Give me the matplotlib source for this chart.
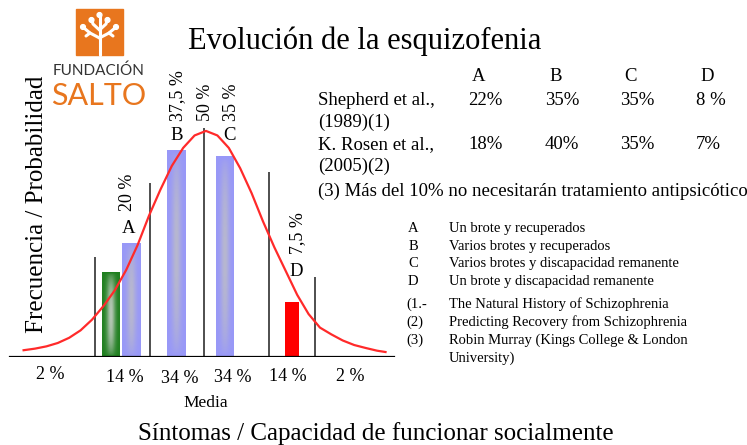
"""
Evolución de la esquizofenia - bell curve with outcome bars
"""
import numpy as np
import matplotlib
matplotlib.use("Agg")
import matplotlib.pyplot as plt
from matplotlib.colors import to_rgb

# curve heights (x in sigma units, 1.0 = peak)
curve_x = [-3.2, -3.0, -2.8, -2.6, -2.4, -2.2, -2.0, -1.8, -1.6, -1.4, -1.2, -1.0,
           -0.8, -0.6, -0.4, -0.2, 0.0, 0.2, 0.4, 0.6, 0.8, 1.0, 1.2, 1.4, 1.6,
           1.8, 2.0, 2.2, 2.4, 2.6, 2.8, 3.0, 3.15]
curve_y = [0.03, 0.037, 0.047, 0.062, 0.085, 0.118, 0.165, 0.225, 0.295, 0.385, 0.495, 0.625,
           0.74, 0.845, 0.925, 0.98, 1.0, 0.98, 0.925, 0.835, 0.725, 0.60, 0.485, 0.38,
           0.275, 0.19, 0.13, 0.10, 0.073, 0.053, 0.04, 0.028, 0.022]

# bars (green, A, B, C, D)
bar_x = [-1.675, -1.316, -0.518, 0.325, 1.51]
bar_height = [0.372, 0.504, 0.912, 0.885, 0.243]
bar_width = [0.30, 0.316, 0.333, 0.30, 0.246]
bar_letters = ["", "A", "B", "C", "D"]
bar_pct = ["", "20 %", "37,5 %", "35 %", "7,5 %"]
mean_pct = "50 %"

# sigma divider lines
sigma_x = [-1.95, -0.98, -0.035, 1.105, 1.91]
sigma_top = [0.442, 0.77, 1.013, 0.819, 0.354]
sigma_bottom = [-0.058, -0.049, -0.027, 0.0, -0.066]

region_labels = ["2 %", "14 %", "34 %", "34 %", "14 %", "2 %"]

table_cols = ["A", "B", "C", "D"]
shepherd = ["22%", "35%", "35%", "8 %"]
rosen = ["18%", "40%", "35%", "7%"]

legend_keys = ["A", "B", "C", "D"]
legend_texts = ["Un brote y recuperados", "Varios brotes y recuperados",
                "Varios brotes y discapacidad remanente",
                "Un brote y discapacidad remanente"]
ref_keys = ["(1.-", "(2)", "(3)", ""]
ref_texts = ["The Natural History of Schizophrenia",
             "Predicting Recovery from Schizophrenia",
             "Robin Murray (Kings College & London", "University)"]

SERIF = "Liberation Serif"
ORANGE = "#E8761E"
W, H = 747, 445


def gradient_bar(ax, x, w, h, edge, center):
    ny, nx = 60, 24
    u = np.linspace(-1, 1, nx)[None, :]
    v = np.linspace(-1, 1, ny)[:, None]
    wt = np.exp(-(u / 0.5) ** 2) * (1 - v ** 2) ** 0.6 * 0.85
    e = np.array(to_rgb(edge))
    c = np.array(to_rgb(center))
    img = e[None, None, :] * (1 - wt[..., None]) + c[None, None, :] * wt[..., None]
    ax.imshow(img, extent=(x - w / 2, x + w / 2, 0, h), aspect="auto",
              interpolation="bilinear", zorder=2)


fig = plt.figure(figsize=(W / 100, H / 100), dpi=100)

# chart axes: baseline at pixel 357, mean at pixel 206, sigma = 57 px, peak = 226 px
ax = fig.add_axes([0, (H - 357) / H, 400 / W, 300 / H])
bar_colors = ["#1f7f1f", "#9898f8", "#9898f8", "#9898f8", "#ff0000"]
bar_centers = ["#d0d4d0", "#bdbdc8", "#bdbdc8", "#bdbdc8", "#ff0000"]
for x, h, w, ec, cc in zip(bar_x, bar_height, bar_width, bar_colors, bar_centers):
    if ec == cc:
        ax.bar(x, h, width=w, color=ec, zorder=2)
    else:
        gradient_bar(ax, x, w, h, ec, cc)

ax.vlines(sigma_x, sigma_bottom, sigma_top, colors="#404040", lw=1.3, zorder=3)
ax.plot(curve_x, curve_y, color="#ff2a2a", lw=1.6, zorder=4)
ax.axhline(0, xmin=0.025, xmax=0.985, color="black", lw=1.6, zorder=3)
ax.set_xlim(-3.614, 3.404)
ax.set_ylim(0, 1.327)
ax.axis("off")

# overlay in pixel coordinates for text and logo
ov = fig.add_axes([0, 0, 1, 1], facecolor="none")
ov.set_xlim(0, W)
ov.set_ylim(H, 0)
ov.axis("off")

ov.text(365, 49, "Evolución de la esquizofenia", family=SERIF, fontsize=22,
        ha="center", va="baseline")
ov.text(37, 204, "Frecuencia / Probabilidad", family=SERIF, fontsize=18,
        rotation=90, ha="center", va="center")
ov.text(376, 440, "Síntomas / Capacidad de funcionar socialmente", family=SERIF,
        fontsize=18, ha="center", va="baseline")
ov.text(206, 407, "Media", family=SERIF, fontsize=12.5, ha="center", va="baseline")

region_pos = [(50, 379), (125, 382), (180, 383), (233, 382), (288, 381), (350, 381)]
for lab, (px, py) in zip(region_labels, region_pos):
    ov.text(px, py, lab, family=SERIF, fontsize=13, ha="center", va="baseline")

letter_pos = [None, (129, 233), (177, 140), (229, 140), (296, 276)]
pct_pos = [None, (128, 192), (178, 96), (231, 102), (298, 233)]
for let, pct, lp, pp in zip(bar_letters, bar_pct, letter_pos, pct_pos):
    if not let:
        continue
    ov.text(lp[0], lp[1], let, family=SERIF, fontsize=13.5, ha="center", va="baseline")
    ov.text(pp[0], pp[1], pct, family=SERIF, fontsize=13, rotation=90,
            ha="center", va="center")
ov.text(205, 102, mean_pct, family=SERIF, fontsize=13, rotation=90,
        ha="center", va="center")

# table
col_x = [468, 545, 620, 696]
for cx, c in zip(col_x, table_cols):
    ov.text(cx + 4, 81, c, family=SERIF, fontsize=13.5, va="baseline")
ov.text(318, 105, "Shepherd et al.,", family=SERIF, fontsize=13.5, va="baseline")
ov.text(318, 127, "(1989)(1)", family=SERIF, fontsize=13.5, va="baseline")
ov.text(318, 149, "K. Rosen et al.,", family=SERIF, fontsize=13.5, va="baseline")
ov.text(318, 171, "(2005)(2)", family=SERIF, fontsize=13.5, va="baseline")
for cx, a, b in zip(col_x, shepherd, rosen):
    ov.text(cx, 105, a, family=SERIF, fontsize=13.5, va="baseline")
    ov.text(cx, 149, b, family=SERIF, fontsize=13.5, va="baseline")
ov.text(318, 196, "(3) Más del 10% no necesitarán tratamiento antipsicótico",
        family=SERIF, fontsize=13.5, va="baseline")

# legend
for i, (k, t) in enumerate(zip(legend_keys, legend_texts)):
    y = 232 + i * 17.7
    ov.text(413, y, k, family=SERIF, fontsize=10.5, ha="center", va="baseline")
    ov.text(449, y, t, family=SERIF, fontsize=10.5, va="baseline")
for i, (k, t) in enumerate(zip(ref_keys, ref_texts)):
    y = 308 + i * 17.8
    ov.text(406, y, k, family=SERIF, fontsize=10.5, va="baseline")
    ov.text(449, y, t, family=SERIF, fontsize=10.5, va="baseline")

# logo
ov.add_patch(plt.Rectangle((76, 9), 47, 46, color=ORANGE, zorder=5))
white = dict(color="white", lw=2.2, solid_capstyle="round", zorder=6)
ov.plot([99.5, 99.5], [55, 16], **white)
ov.plot([99.5, 93, 92], [30, 24, 21], **white)
ov.plot([99.5, 106, 107], [30, 24, 21], **white)
ov.plot([99.5, 90, 84], [38, 33, 28], **white)
ov.plot([99.5, 109, 115], [38, 33, 28], **white)
ov.plot([90, 86], [33, 36], **white)
ov.plot([109, 113], [33, 36], **white)
for cx, cy in [(99.5, 15), (91.5, 20), (107.5, 20), (83, 27), (116, 27)]:
    ov.add_patch(plt.Circle((cx, cy), 2.4, color="white", zorder=7))
ov.text(99, 75, "FUNDACIÓN", family="Lato", fontsize=11, color="#333333",
        ha="center", va="baseline")
ov.text(99, 105, "SALTO", family="Lato", fontsize=22, color=ORANGE,
        ha="center", va="baseline")

fig.savefig("out.png", dpi=100)
